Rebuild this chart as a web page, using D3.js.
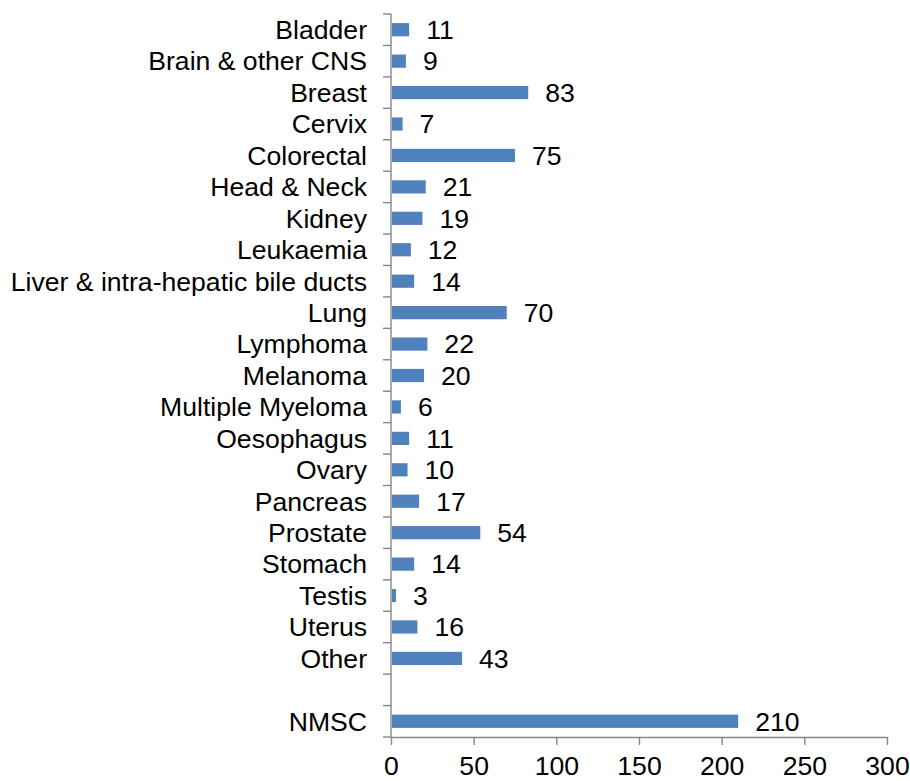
<!DOCTYPE html>
<html>
<head>
<meta charset="utf-8">
<script src="https://cdn.jsdelivr.net/npm/d3@7"></script>
<style>
  body { margin: 0; background: #fff; }
  text { font-family: Arial, "Liberation Sans", sans-serif; fill: #000; }
</style>
</head>
<body>
<div id="chart"></div>
<script>
// categories top to bottom, '' is the empty slot before NMSC
const categories = ['Bladder', 'Brain & other CNS', 'Breast', 'Cervix', 'Colorectal', 'Head & Neck',
  'Kidney', 'Leukaemia', 'Liver & intra-hepatic bile ducts', 'Lung', 'Lymphoma', 'Melanoma',
  'Multiple Myeloma', 'Oesophagus', 'Ovary', 'Pancreas', 'Prostate', 'Stomach', 'Testis',
  'Uterus', 'Other', '', 'NMSC'];
const values = [11, 9, 83, 7, 75, 21, 19, 12, 14, 70, 22, 20, 6, 11, 10, 17, 54, 14, 3, 16, 43, null, 210];
const xTicks = [0, 50, 100, 150, 200, 250, 300];

const width = 910, height = 781;
const margin = {top: 14, right: 23, bottom: 44, left: 391};

const data = categories.map((c, i) => ({cat: c, key: 'k' + i, value: values[i]}));

const svg = d3.select('#chart').append('svg')
  .attr('width', width)
  .attr('height', height);

const xScale = d3.scaleLinear()
  .domain([0, 300])
  .range([margin.left, width - margin.right]);

const yScale = d3.scaleBand()
  .domain(data.map(d => d.key))
  .range([margin.top, height - margin.bottom])
  .padding(0);

const barH = yScale.bandwidth() * 0.42;
const axisColor = '#868686';
const fontSize = 26.6;

// y axis line and ticks at band boundaries
svg.append('line')
  .attr('x1', xScale(0)).attr('x2', xScale(0))
  .attr('y1', margin.top).attr('y2', height - margin.bottom)
  .attr('stroke', axisColor).attr('stroke-width', 1.4);

const bounds = d3.range(categories.length + 1).map(i => margin.top + i * yScale.step());
svg.selectAll('.ytick')
    .data(bounds)
  .enter().append('line')
    .attr('class', 'ytick')
    .attr('x1', xScale(0) - 8).attr('x2', xScale(0))
    .attr('y1', d => d).attr('y2', d => d)
    .attr('stroke', axisColor).attr('stroke-width', 1.4);

// x axis
const xAxis = d3.axisBottom(xScale)
  .tickValues(xTicks)
  .tickSize(8)
  .tickSizeOuter(0)
  .tickPadding(11);

const gx = svg.append('g')
  .attr('transform', 'translate(0,' + (height - margin.bottom) + ')')
  .call(xAxis);
gx.select('.domain').attr('stroke', axisColor).attr('stroke-width', 1.4);
gx.selectAll('.tick line').attr('stroke', axisColor).attr('stroke-width', 1.4);
gx.selectAll('.tick text')
  .style('font-size', fontSize + 'px')
  .style('font-family', 'Arial, "Liberation Sans", sans-serif')
  .attr('fill', '#000');

// category labels
svg.selectAll('.cat')
    .data(data)
  .enter().append('text')
    .attr('class', 'cat')
    .attr('x', xScale(0) - 24)
    .attr('y', d => yScale(d.key) + yScale.bandwidth() / 2)
    .attr('dy', '0.35em')
    .attr('text-anchor', 'end')
    .style('font-size', fontSize + 'px')
    .text(d => d.cat);

const bars = data.filter(d => d.value !== null);

svg.selectAll('.bar')
    .data(bars)
  .enter().append('rect')
    .attr('class', 'bar')
    .attr('x', xScale(0) + 1)
    .attr('y', d => yScale(d.key) + (yScale.bandwidth() - barH) / 2)
    .attr('width', d => xScale(d.value) - xScale(0) - 1)
    .attr('height', barH)
    .attr('fill', '#4F81BD');

svg.selectAll('.val')
    .data(bars)
  .enter().append('text')
    .attr('class', 'val')
    .attr('x', d => xScale(d.value) + 17)
    .attr('y', d => yScale(d.key) + yScale.bandwidth() / 2)
    .attr('dy', '0.35em')
    .style('font-size', fontSize + 'px')
    .text(d => d.value);
</script>
</body>
</html>
